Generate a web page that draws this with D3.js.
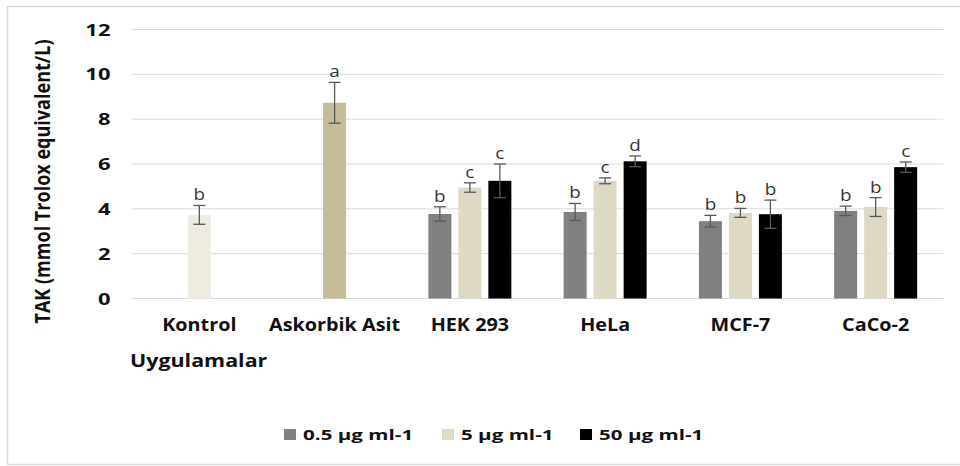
<!DOCTYPE html>
<html><head><meta charset="utf-8">
<script src="https://cdn.jsdelivr.net/npm/d3@7"></script>
<style>
body{margin:0;background:#fff;}
text{font-family:"Open Sans",sans-serif;}
</style></head>
<body>
<svg id="c" width="960" height="466"></svg>
<script>
const categories = ["Kontrol","Askorbik Asit","HEK 293","HeLa","MCF-7","CaCo-2"];
const seriesNames = ["0.5 µg ml-1","5 µg ml-1","50 µg ml-1"];
const seriesColors = ["#808080","#DDD9C4","#000000"];
// single-bar categories (drawn in middle slot with their own colour)
const singleColors = {"Kontrol":"#EEECE1","Askorbik Asit":"#C4BD97"};
const values05 = [null, null, 3.77, 3.86, 3.45, 3.91];
const values5  = [3.73, 8.73, 4.95, 5.25, 3.82, 4.08];
const values50 = [null, null, 5.25, 6.12, 3.76, 5.86];
const err05 = [null, null, 0.32, 0.38, 0.26, 0.21];
const err5  = [0.42, 0.91, 0.21, 0.13, 0.20, 0.42];
const err50 = [null, null, 0.75, 0.24, 0.63, 0.23];
const lab05 = [null, null, "b", "b", "b", "b"];
const lab5  = ["b", "a", "c", "c", "b", "b"];
const lab50 = [null, null, "c", "d", "b", "c"];
const yTicks = [0,2,4,6,8,10,12];
const yTitle = "TAK (mmol Trolox equivalent/L)";
const xTitle = "Uygulamalar";

const svg = d3.select("#c");
svg.append("rect").attr("x",7.5).attr("y",6.5).attr("width",960).attr("height",458)
  .attr("fill","#fff").attr("stroke","#D9D9D9").attr("stroke-width",1.5);

const pLeft = 131.7, pRight = 943.3, pTop = 29.5, pBottom = 298.5;
const y = d3.scaleLinear().domain([0,12]).range([pBottom, pTop]);
const x0 = d3.scaleBand().domain(categories).range([pLeft,pRight]).padding(0);
const x1 = d3.scaleBand().domain(seriesNames).range([-45,45]).paddingInner(0.233).paddingOuter(0.1167);

// gridlines
svg.append("g").selectAll("line").data(yTicks).join("line")
  .attr("x1",pLeft).attr("x2",pRight).attr("y1",d=>y(d)).attr("y2",d=>y(d))
  .attr("stroke","#D9D9D9").attr("stroke-width",1);

// y axis labels
const yAxis = d3.axisLeft(y).tickValues(yTicks).tickSize(0).tickPadding(0);
const ga = svg.append("g").attr("transform",`translate(110.5,0)`).call(yAxis);
ga.select(".domain").remove();
ga.selectAll("text").attr("font-size",15.5).attr("font-weight","bold").attr("fill","#111")
  .attr("font-family","'Open Sans',sans-serif").attr("dy","0.36em").attr("transform","scale(1.42,1)");

// x labels
const gx = svg.append("g").attr("transform",`translate(0,${pBottom})`)
  .call(d3.axisBottom(x0).tickSize(0).tickPadding(0));
gx.select(".domain").remove();
gx.selectAll("text").attr("font-size",17).attr("font-weight","bold").attr("fill","#111")
  .attr("dy",null).attr("y",32.3).attr("font-family","'Open Sans',sans-serif")
  .attr("transform","scale(1.165,1)");

// titles
svg.append("text").attr("transform","translate(49.5,181.5) rotate(-90) scale(0.88,1)")
  .attr("text-anchor","middle").attr("font-size",20.5).attr("font-weight","bold").attr("fill","#111")
  .text(yTitle);
svg.append("text").attr("transform","translate(130,366.7) scale(1.16,1)")
  .attr("font-size",18.5).attr("font-weight","bold").attr("fill","#111")
  .text(xTitle);

// bars
const seriesVals = [values05, values5, values50];
const seriesErr = [err05, err5, err50];
const seriesLab = [lab05, lab5, lab50];
const bars = [];
seriesNames.forEach((s,si)=>{
  categories.forEach((c,ci)=>{
    const v = seriesVals[si][ci];
    if (v==null) return;
    bars.push({cat:c, s, si, v, e:seriesErr[si][ci], lab:seriesLab[si][ci],
      color: (singleColors[c] || seriesColors[si])});
  });
});
const cx = d => x0(d.cat) + x0.bandwidth()/2 + x1(d.s);
const bw = x1.bandwidth();
const gb = svg.append("g");
gb.selectAll("rect").data(bars).join("rect")
  .attr("x",d=>cx(d)).attr("width",bw)
  .attr("y",d=>y(d.v)).attr("height",d=>y(0)-y(d.v))
  .attr("fill",d=>d.color);

// error bars
const ge = svg.append("g").attr("stroke","#595959").attr("stroke-width",1.3);
bars.forEach(d=>{
  const m = cx(d)+bw/2;
  ge.append("line").attr("x1",m).attr("x2",m).attr("y1",y(d.v+d.e)).attr("y2",y(d.v-d.e));
  ge.append("line").attr("x1",m-6).attr("x2",m+6).attr("y1",y(d.v+d.e)).attr("y2",y(d.v+d.e));
  ge.append("line").attr("x1",m-6).attr("x2",m+6).attr("y1",y(d.v-d.e)).attr("y2",y(d.v-d.e));
});
// letters
svg.append("g").selectAll("text").data(bars).join("text")
  .attr("transform",d=>`translate(${cx(d)+bw/2},${y(d.v+d.e)-5}) scale(1.18,1)`)
  .attr("text-anchor","middle").attr("font-size",16).attr("fill","#333")
  .text(d=>d.lab);

// legend
const legX = [284, 442, 580];
const gl = svg.append("g");
seriesNames.forEach((s,i)=>{
  gl.append("rect").attr("x",legX[i]).attr("y",429).attr("width",12).attr("height",11).attr("fill",seriesColors[i]);
  gl.append("text").attr("transform",`translate(${legX[i]+19},439.5) scale(1.42,1)`)
    .attr("font-size",14.5).attr("font-weight","bold")
    .attr("fill","#111").text(s);
});
</script>
</body></html>
